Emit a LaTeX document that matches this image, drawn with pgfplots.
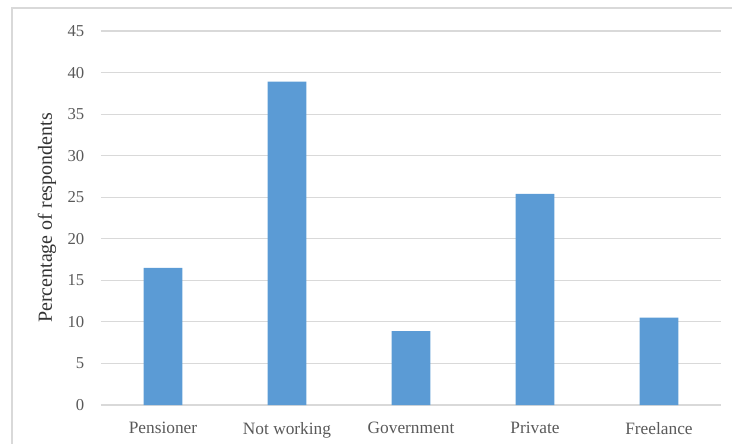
\documentclass[border=0pt]{standalone}
\usepackage{pgfplots}
\pgfplotsset{compat=1.18}
\usepackage{fontspec}
\setmainfont{Liberation Serif}
\definecolor{barblue}{HTML}{5B9BD5}
\definecolor{gridgray}{HTML}{D9D9D9}
\definecolor{txt}{HTML}{595959}
\begin{document}
\begin{tikzpicture}[x=1pt,y=1pt]
\begin{axis}[
  at={(75.75pt,28.5pt)}, anchor=south west,
  scale only axis,
  width=465pt, height=280.5pt,
  xmin=-0.5, xmax=4.5,
  ymin=0, ymax=45,
  ytick={0,5,...,45},
  xtick=data,
  xticklabels={Pensioner,Not working,Government,Private,Freelance},
  axis line style={draw=none},
  tick style={draw=none},
  ymajorgrids,
  grid style={gridgray, line width=0.8pt},
  ybar, bar width=29pt,
  ylabel={Percentage of respondents},
  ylabel style={at={(axis description cs:0,0.5)}, yshift=30pt, anchor=south, font=\fontsize{15}{17}\selectfont, color=black!80},
  yticklabel style={font=\fontsize{12.5}{14}\selectfont, color=txt, xshift=-9pt},
  xticklabel style={font=\fontsize{13}{15}\selectfont, color=txt, yshift=-5pt},
  /pgf/number format/assume math mode=true,
  clip=false,
]
\addplot[fill=barblue, draw=none] coordinates {(0,16.5) (1,38.9) (2,8.9) (3,25.4) (4,10.5)};
\end{axis}
\draw[gridgray, line width=1.2pt] (9pt,-20pt) -- (9pt,326.25pt) -- (570pt,326.25pt);
\pgfresetboundingbox
\useasboundingbox (0,0) rectangle (549pt,332.25pt);
\end{tikzpicture}
\end{document}
